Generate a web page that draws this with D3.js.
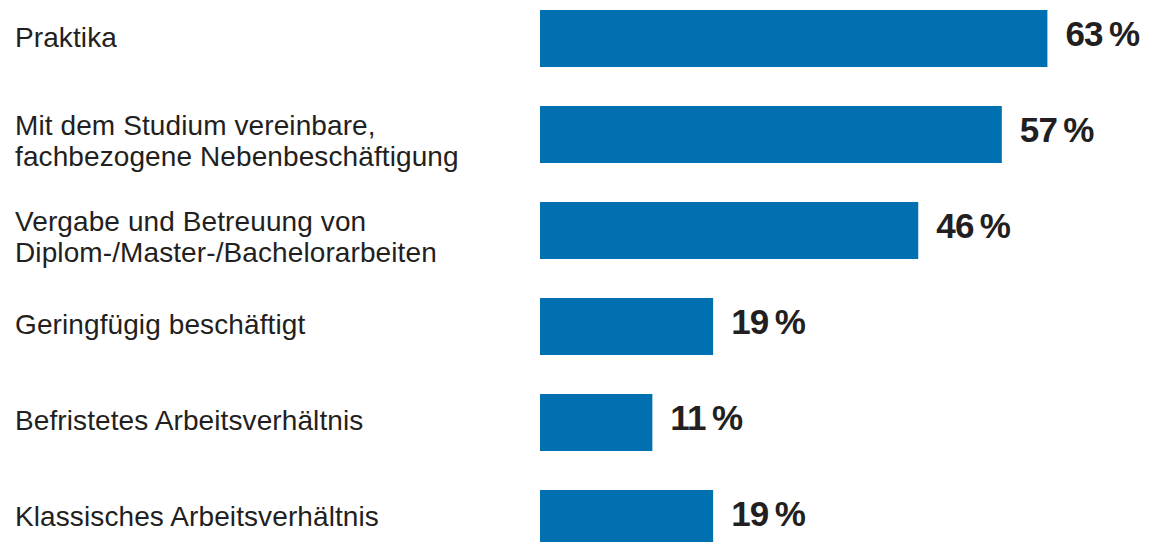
<!DOCTYPE html>
<html><head><meta charset="utf-8">
<script src="https://cdn.jsdelivr.net/npm/d3@7"></script>
<style>
html,body{margin:0;padding:0;background:#fff;}
svg{display:block;}
</style></head>
<body>
<svg id="chart" width="1160" height="542"></svg>
<script>
const categories = [
  "Praktika",
  "Mit dem Studium vereinbare,\nfachbezogene Nebenbeschäftigung",
  "Vergabe und Betreuung von\nDiplom-/Master-/Bachelorarbeiten",
  "Geringfügig beschäftigt",
  "Befristetes Arbeitsverhältnis",
  "Klassisches Arbeitsverhältnis"
];
const values = [63, 57, 46, 19, 11, 19];
const valueLabels = ["63\u2009%", "57\u2009%", "46\u2009%", "19\u2009%", "11\u2009%", "19\u2009%"];

const svg = d3.select("#chart");

const y = d3.scaleBand().domain(categories).range([10, 547]).paddingInner(0.406).paddingOuter(0);
const x = d3.scaleLinear().domain([-3.79, 63]).range([540, 1047.4]);
const x0 = x(x.domain()[0]);

const data = categories.map((c, i) => ({c, v: values[i], lbl: valueLabels[i]}));

svg.selectAll("rect.bar").data(data).join("rect")
  .attr("class", "bar")
  .attr("x", x0)
  .attr("y", d => y(d.c))
  .attr("width", d => x(d.v) - x0)
  .attr("height", y.bandwidth())
  .attr("fill", "#0070b0");

svg.selectAll("text.val").data(data).join("text")
  .attr("class", "val")
  .attr("x", d => x(d.v) + 18)
  .attr("y", d => y(d.c) + y.bandwidth() / 2 + 7.5)
  .attr("font-family", "'Liberation Sans', Arial, sans-serif")
  .attr("font-weight", "bold")
  .attr("font-size", 35)
  .attr("letter-spacing", "-0.8px")
  .attr("fill", "#231f20")
  .text(d => d.lbl);

const lineH = 31;
const cat = svg.selectAll("text.cat").data(data).join("text")
  .attr("class", "cat")
  .attr("font-family", "'Liberation Sans', Arial, sans-serif")
  .attr("font-size", 28)
  .attr("letter-spacing", "0.1px")
  .attr("fill", "#231f20");
cat.each(function(d) {
  const lines = d.c.split("\n");
  const first = y(d.c) + y.bandwidth() / 2 + 8 - (lines.length - 1) * 8;
  d3.select(this).selectAll("tspan").data(lines).join("tspan")
    .attr("x", 15)
    .attr("y", (l, i) => first + i * lineH)
    .text(l => l);
});
</script>
</body></html>
